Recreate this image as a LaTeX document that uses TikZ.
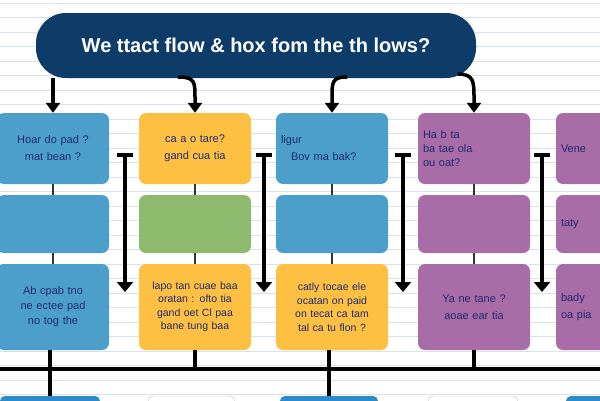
\documentclass[tikz,border=0pt]{standalone}
\usepackage{fontspec}
\setmainfont{Liberation Sans}
\usetikzlibrary{arrows.meta}

\definecolor{titlenavy}{HTML}{0D3C68}
\definecolor{inknavy}{HTML}{1F2A70}
\definecolor{boxblue}{HTML}{4D9FCB}
\definecolor{boxyellow}{HTML}{FDC043}
\definecolor{boxgreen}{HTML}{8DBA6C}
\definecolor{boxpurple}{HTML}{A86CA6}
\definecolor{footblue}{HTML}{2B8BCB}
\definecolor{rulecol}{HTML}{D8E2EC}

\begin{document}
\begin{tikzpicture}[x=1pt, y=-1pt,
    stage/.style={rounded corners=7pt, minimum width=112pt, text width=102pt,
      align=center, inner sep=0pt, text=inknavy, font=\fontsize{11}{17}\selectfont},
    toprow/.style={stage, minimum height=71pt},
    midrow/.style={stage, minimum height=58pt},
    lowrow/.style={stage, minimum height=86pt, font=\fontsize{10.5}{13.5}\selectfont},
    footbox/.style={rounded corners=5pt, minimum height=30pt, inner sep=0pt},
    flowarrow/.style={line width=3.5pt, -{Triangle[width=14pt,length=10pt]}},
    linkarrow/.style={line width=4pt, {Bar[width=16pt]}-{Triangle[width=16pt,length=10pt]}},
    bus/.style={line width=4.5pt},
    thinlink/.style={line width=1.5pt, draw=black!80}]

    % Paper
    \fill[white] (0,0) rectangle (600,400);
    \useasboundingbox (0,0) rectangle (600,400);
    \foreach \y in {3,17.5,...,400} \draw[rulecol, line width=0.8pt] (0,\y) -- (600,\y);

    % Title
    \node[fill=titlenavy, rounded corners=30pt, minimum width=440pt, minimum height=65pt,
      text=white, font=\bfseries\fontsize{20}{22}\selectfont] (title) at (256,45.5)
      {We ttact flow \& hox fom the th lows?};

    % Top row
    \node[toprow, fill=boxblue] (top1) at (53,148.5) {Hoar do pad ?\\ mat bean ?};
    \node[toprow, fill=boxyellow] (top2) at (195,148.5) {ca a o tare?\\ gand cua tia};
    \node[toprow, fill=boxblue, align=left] (top3) at (332,148.5) {ligur\\ \hspace*{10pt}Bov ma bak?};
    \node[toprow, fill=boxpurple, align=left, font=\fontsize{11}{14}\selectfont] (top4) at (474,148.5) {Ha b ta\\ ba tae ola\\ ou oat?};
    \node[toprow, fill=boxpurple, align=left] (top5) at (612,148.5) {Vene};

    % Middle row
    \node[midrow, fill=boxblue] (mid1) at (53,224) {};
    \node[midrow, fill=boxgreen] (mid2) at (195,224) {};
    \node[midrow, fill=boxblue] (mid3) at (332,224) {};
    \node[midrow, fill=boxpurple] (mid4) at (474,224) {};
    \node[midrow, fill=boxpurple, align=left] (mid5) at (612,224) {taty};

    % Bottom row
    \node[lowrow, fill=boxblue, font=\fontsize{11}{15}\selectfont] (low1) at (53,307) {Ab cpab tno\\ ne ectee pad\\ no tog the};
    \node[lowrow, fill=boxyellow] (low2) at (195,307) {lapo tan cuae baa\\ oratan : ofto tia\\ gand oet Cl paa\\ bane tung baa};
    \node[lowrow, fill=boxyellow] (low3) at (332,307) {catly tocae ele\\ ocatan on paid\\ on tecat ca tam\\ tal ca tu flon ?};
    \node[lowrow, fill=boxpurple, font=\fontsize{11}{17}\selectfont] (low4) at (474,307) {Ya ne tane ?\\ aoae ear tia};
    \node[lowrow, fill=boxpurple, align=left, font=\fontsize{11}{17}\selectfont] (low5) at (612,307) {bady\\ oa pia};

    % Next row, cut off
    \node[footbox, fill=footblue, minimum width=100pt] (foot1) at (50,411) {};
    \node[footbox, draw=black!25, fill=white, minimum width=87pt] (foot2) at (191.5,411) {};
    \node[footbox, fill=footblue, minimum width=98pt] (foot3) at (329,411) {};
    \node[footbox, draw=black!25, fill=white, minimum width=90pt] (foot4) at (473,411) {};
    \node[footbox, fill=footblue, minimum width=100pt] (foot5) at (616,411) {};

    % Title to columns
    \coordinate (t2) at (178,77);
    \coordinate (t3) at (347,77);
    \coordinate (t4) at (458,74);
    \draw[flowarrow] (title.south -| top1) -- (top1.north);
    \draw[flowarrow] (t2) .. controls (195,77) and (195,82) .. (195,98) -- (top2.north);
    \draw[flowarrow] (t3) .. controls (332,77) and (332,82) .. (332,98) -- (top3.north);
    \draw[flowarrow] (t4) .. controls (474,74) and (474,82) .. (474,98) -- (top4.north);

    % Inside the columns
    \draw[thinlink] (top1) -- (mid1); \draw[thinlink] (mid1) -- (low1);
    \draw[thinlink] (top2) -- (mid2); \draw[thinlink] (mid2) -- (low2);
    \draw[thinlink] (top3) -- (mid3); \draw[thinlink] (mid3) -- (low3);
    \draw[thinlink] (top4) -- (mid4); \draw[thinlink] (mid4) -- (low4);

    % Between the columns
    \coordinate (g1a) at (125,153); \coordinate (g1b) at (125,292);
    \coordinate (g2a) at (264,153); \coordinate (g2b) at (264,292);
    \coordinate (g3a) at (403,153); \coordinate (g3b) at (403,292);
    \coordinate (g4a) at (542,153); \coordinate (g4b) at (542,292);
    \draw[linkarrow] (g1a) -- (g1b);
    \draw[linkarrow] (g2a) -- (g2b);
    \draw[linkarrow] (g3a) -- (g3b);
    \draw[linkarrow] (g4a) -- (g4b);

    % Bus line
    \coordinate (busL) at (0,369);
    \coordinate (busR) at (600,369);
    \draw[bus] (busL) -- (busR);
    \draw[bus] (low1.south -| foot1) -- (foot1.north);
    \draw[bus] (low2.south) -- (low2.south |- busL);
    \draw[bus] (low3.south -| foot3) -- (foot3.north);
    \draw[bus] (low4.south) -- (low4.south |- busL);

\end{tikzpicture}
\end{document}
